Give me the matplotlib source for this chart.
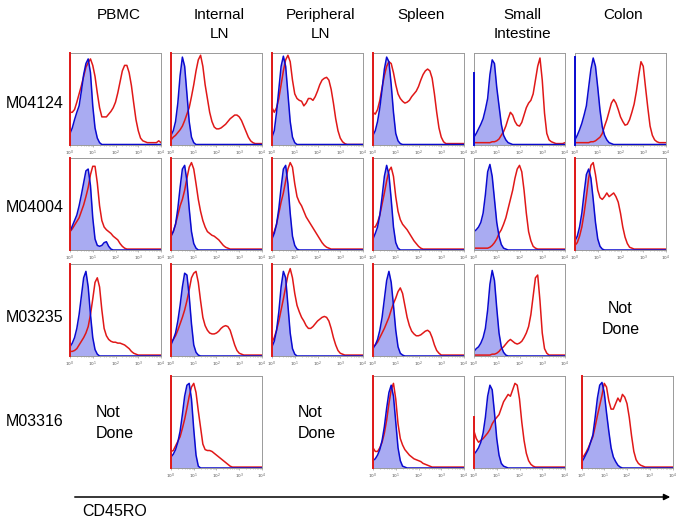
import matplotlib.pyplot as plt
from matplotlib.patches import FancyArrowPatch
import numpy as np

plt.rcParams['font.family'] = ['Liberation Sans', 'DejaVu Sans']

# CD45RO fluorescence, log10 bin centres from 10^0 to 10^4
log_bins = np.linspace(0, 4, 41)

tissues = ["PBMC", "Internal\nLN", "Peripheral\nLN", "Spleen", "Small\nIntestine", "Colon"]
animals = ["M04124", "M04004", "M03235", "M03316"]

# histogram heights (% of panel height), blue = isotype (filled), red = CD45RO stain
# ---- M04124 ----
r1c1_blue = [12, 18, 27, 35, 42, 58, 76, 88, 93, 78, 42, 18, 7, 2, 0] + [0] * 26
r1c1_red = [35, 35, 38, 46, 55, 64, 74, 84, 89, 93, 86, 74, 56, 40, 30, 30, 30, 33, 36, 40, 46,
            56, 68, 80, 86, 86, 78, 64, 45, 27, 15, 7, 4, 3, 2, 2, 2, 2, 2, 4, 2]
r1c2_blue = [10, 15, 25, 45, 75, 95, 85, 55, 25, 8, 2, 0] + [0] * 29
r1c2_red = [5, 8, 10, 13, 16, 20, 26, 33, 40, 52, 65, 80, 92, 97, 85, 65, 50, 35, 25, 19, 17,
            17, 18, 20, 22, 25, 28, 30, 32, 32, 30, 26, 20, 14, 8, 4, 2, 1, 1, 1, 1]
r1c3_blue = [8, 15, 35, 60, 85, 96, 85, 55, 25, 8, 2, 0] + [0] * 29
r1c3_red = [40, 35, 40, 50, 65, 80, 92, 97, 90, 70, 55, 50, 48, 47, 42, 45, 50, 50, 48, 52, 58,
            65, 70, 72, 73, 70, 60, 45, 28, 15, 7, 3, 1, 0, 0, 0, 0, 0, 0, 0, 0]
r1c4_blue = [10, 15, 25, 40, 60, 82, 95, 90, 65, 35, 12, 4, 1, 0] + [0] * 27
r1c4_red = [35, 33, 38, 48, 62, 75, 85, 90, 88, 78, 65, 55, 50, 47, 45, 46, 48, 52, 55, 58, 63,
            70, 76, 80, 82, 80, 72, 55, 35, 18, 8, 3, 1, 1, 1, 1, 1, 1, 1, 1, 1]
r1c5_blue = [8, 12, 17, 22, 28, 38, 50, 76, 92, 88, 62, 42, 22, 10, 5, 2, 1, 0] + [0] * 23
r1c5_red = [2, 2, 2, 2, 2, 2, 2, 2, 3, 3, 4, 6, 10, 14, 20, 28, 35, 32, 25, 21, 20,
            24, 32, 40, 45, 48, 55, 70, 85, 94, 70, 34, 12, 5, 3, 2, 1, 1, 1, 1, 2]
r1c6_blue = [5, 10, 16, 23, 32, 42, 62, 82, 94, 85, 62, 37, 19, 10, 5, 2, 1, 0] + [0] * 23
r1c6_red = [2, 2, 2, 2, 2, 2, 2, 3, 3, 4, 6, 8, 12, 20, 27, 36, 45, 49, 45, 38, 30,
            25, 21, 22, 27, 35, 44, 58, 75, 90, 85, 62, 40, 20, 10, 5, 3, 2, 2, 2, 2]
# ---- M04004 ----
r2c1_blue = [20, 26, 32, 38, 48, 60, 73, 86, 88, 70, 35, 12, 5, 4, 5, 8, 9, 4, 1, 0] + [0] * 21
r2c1_red = [20, 23, 27, 31, 35, 42, 49, 58, 68, 82, 91, 91, 73, 48, 32, 25, 22, 20, 18, 15, 13,
            11, 7, 4, 2, 1, 1, 1, 1, 1, 1, 1, 1, 1, 1, 1, 1, 1, 1, 1, 1]
r2c2_blue = [15, 20, 28, 45, 68, 88, 92, 75, 45, 20, 7, 2, 0] + [0] * 28
r2c2_red = [15, 20, 28, 38, 48, 55, 65, 78, 90, 95, 88, 72, 55, 42, 32, 25, 20, 18, 16, 15, 13,
            11, 8, 5, 3, 2, 1, 1, 1, 1, 1, 1, 1, 1, 1, 1, 1, 1, 1, 1, 1]
r2c3_blue = [12, 18, 28, 45, 68, 88, 92, 72, 40, 15, 5, 1, 0] + [0] * 28
r2c3_red = [15, 20, 28, 40, 52, 62, 75, 88, 95, 90, 72, 58, 52, 48, 42, 36, 32, 28, 24, 20, 16,
            12, 8, 5, 3, 2, 1, 1, 1, 1, 1, 1, 1, 1, 1, 1, 1, 1, 1, 1, 1]
r2c4_blue = [12, 18, 25, 38, 58, 80, 92, 82, 55, 25, 8, 2, 0] + [0] * 28
r2c4_red = [25, 25, 30, 38, 50, 62, 75, 86, 90, 80, 58, 42, 33, 28, 25, 22, 18, 14, 10, 7, 4,
            2, 1, 1, 1, 1, 1, 1, 1, 1, 1, 1, 1, 1, 1, 1, 1, 1, 1, 1, 1]
r2c5_blue = [20, 22, 25, 30, 40, 60, 85, 93, 80, 55, 30, 15, 6, 2, 1, 0] + [0] * 25
r2c5_red = [2, 2, 2, 2, 2, 2, 2, 3, 5, 8, 12, 18, 22, 28, 35, 45, 55, 65, 78, 88, 92,
            85, 65, 40, 20, 10, 4, 2, 1, 1, 1, 1, 1, 1, 1, 1, 1, 1, 1, 1, 1]
r2c6_blue = [10, 15, 25, 40, 62, 82, 88, 78, 55, 30, 12, 4, 1, 0] + [0] * 27
r2c6_red = [5, 8, 15, 25, 40, 58, 78, 92, 95, 82, 65, 57, 55, 58, 62, 58, 60, 62, 58, 52, 40,
            25, 14, 7, 3, 2, 1, 1, 1, 1, 1, 1, 1, 1, 1, 1, 1, 1, 1, 1, 1]
# ---- M03235 ----
r3c1_blue = [10, 14, 20, 30, 45, 65, 85, 92, 75, 45, 20, 7, 2, 0] + [0] * 27
r3c1_red = [5, 5, 6, 8, 12, 16, 20, 25, 32, 45, 62, 80, 85, 75, 50, 30, 22, 18, 16, 15, 15,
            14, 14, 13, 12, 10, 8, 5, 3, 2, 1, 1, 1, 1, 1, 1, 1, 1, 1, 1, 1]
r3c2_blue = [12, 18, 25, 38, 55, 75, 90, 88, 65, 35, 12, 4, 1, 0] + [0] * 27
r3c2_red = [15, 18, 22, 28, 35, 42, 50, 60, 72, 85, 90, 92, 80, 60, 42, 33, 28, 25, 24, 24, 25,
            27, 30, 32, 33, 32, 28, 20, 12, 6, 3, 2, 1, 1, 1, 1, 1, 1, 1, 1, 1]
r3c3_blue = [10, 16, 28, 48, 75, 92, 85, 55, 25, 8, 2, 0] + [0] * 29
r3c3_red = [15, 20, 28, 38, 50, 62, 75, 88, 95, 85, 68, 55, 48, 42, 38, 33, 30, 30, 32, 35, 38,
            40, 42, 43, 42, 38, 30, 20, 12, 6, 3, 2, 1, 1, 1, 1, 1, 1, 1, 1, 1]
r3c4_blue = [8, 12, 18, 28, 42, 62, 82, 92, 80, 55, 28, 10, 3, 1, 0] + [0] * 26
r3c4_red = [10, 12, 15, 20, 25, 30, 36, 42, 50, 57, 63, 70, 74, 68, 55, 42, 33, 27, 24, 22, 22,
            23, 25, 27, 28, 26, 20, 12, 6, 3, 1, 1, 1, 1, 1, 1, 1, 1, 1, 1, 1]
r3c5_blue = [5, 8, 10, 14, 20, 30, 50, 78, 93, 82, 52, 25, 10, 4, 1, 0] + [0] * 25
r3c5_red = [1, 1, 1, 1, 1, 1, 1, 1, 2, 2, 3, 5, 8, 10, 13, 16, 18, 16, 14, 13, 14,
            16, 20, 25, 32, 45, 65, 85, 88, 60, 25, 8, 3, 1, 1, 1, 1, 1, 1, 1, 1]
# ---- M03316 ----
r4c2_blue = [12, 15, 20, 28, 40, 58, 78, 90, 92, 75, 42, 14, 2, 0] + [0] * 27
r4c2_red = [18, 19, 24, 29, 34, 43, 53, 65, 78, 88, 92, 82, 62, 44, 26, 20, 19, 19, 18, 16, 14,
            12, 10, 8, 6, 4, 2, 1, 1, 1, 1, 1, 1, 1, 1, 1, 1, 1, 1, 1, 1]
r4c4_blue = [8, 10, 14, 20, 30, 45, 65, 82, 90, 78, 50, 22, 8, 2, 1, 0] + [0] * 25
r4c4_red = [22, 18, 18, 22, 28, 38, 52, 70, 85, 92, 75, 48, 32, 25, 20, 17, 14, 12, 10, 9, 8,
            7, 5, 4, 3, 2, 1, 1, 1, 1, 1, 1, 1, 1, 1, 1, 1, 1, 1, 1, 1]
r4c5_blue = [15, 18, 22, 28, 38, 55, 78, 90, 85, 60, 32, 14, 5, 2, 1, 0] + [0] * 25
r4c5_red = [40, 32, 28, 30, 32, 35, 38, 42, 48, 52, 55, 58, 65, 72, 76, 80, 78, 85, 92, 90, 75,
            50, 30, 16, 8, 4, 2, 1, 1, 1, 1, 1, 1, 1, 1, 1, 1, 1, 1, 1, 1]
r4c6_blue = [6, 10, 15, 20, 28, 36, 55, 76, 90, 93, 82, 60, 40, 22, 12, 7, 3, 1, 0] + [0] * 22
r4c6_red = [10, 13, 17, 22, 28, 34, 45, 57, 68, 79, 92, 88, 73, 64, 64, 70, 76, 72, 80, 77, 70,
            55, 35, 18, 9, 5, 3, 2, 1, 1, 1, 1, 1, 1, 1, 1, 1, 1, 1, 1, 1]

# (row, col, blue, red, blue edge spike, red edge spike)
panels = [
    (0, 0, r1c1_blue, r1c1_red, 0, 100), (0, 1, r1c2_blue, r1c2_red, 0, 100),
    (0, 2, r1c3_blue, r1c3_red, 0, 100), (0, 3, r1c4_blue, r1c4_red, 0, 100),
    (0, 4, r1c5_blue, r1c5_red, 78, 0), (0, 5, r1c6_blue, r1c6_red, 95, 0),
    (1, 0, r2c1_blue, r2c1_red, 0, 100), (1, 1, r2c2_blue, r2c2_red, 0, 100),
    (1, 2, r2c3_blue, r2c3_red, 0, 100), (1, 3, r2c4_blue, r2c4_red, 0, 100),
    (1, 4, r2c5_blue, r2c5_red, 0, 0), (1, 5, r2c6_blue, r2c6_red, 0, 100),
    (2, 0, r3c1_blue, r3c1_red, 0, 100), (2, 1, r3c2_blue, r3c2_red, 0, 100),
    (2, 2, r3c3_blue, r3c3_red, 0, 100), (2, 3, r3c4_blue, r3c4_red, 0, 100),
    (2, 4, r3c5_blue, r3c5_red, 0, 0),
    (3, 1, r4c2_blue, r4c2_red, 0, 100), (3, 3, r4c4_blue, r4c4_red, 0, 100),
    (3, 4, r4c5_blue, r4c5_red, 0, 55), (3, 5, r4c6_blue, r4c6_red, 0, 100),
]
not_done = [(2, 5, 'center'), (3, 0, 'left'), (3, 2, 'left')]

W, H = 683, 524
fig = plt.figure(figsize=(W / 100, H / 100), dpi=100)

col_left = [70, 171, 272, 373, 474, 575]
row_top = [52.5, 158, 264, 376]
pw, ph = 91, 92

RED = '#e01818'
BLUE = '#0a0ad0'


def px_axes(x, y, w, h):
    return fig.add_axes([x / W, 1 - (y + h) / H, w / W, h / H])


xs = 10 ** log_bins
for r, c, blue, red, bspike, rspike in panels:
    left = col_left[c] + (6.5 if (r == 3 and c == 5) else 0)
    ax = px_axes(left, row_top[r], pw, ph)
    ax.set_xscale('log')
    ax.set_xlim(1, 1e4)
    ax.set_ylim(0, 100)
    ax.fill_between(xs, blue, color='#a9abf2', lw=0)
    ax.plot(xs, red, color=RED, lw=1.1)
    ax.plot(xs, blue, color=BLUE, lw=1.1)
    if bspike:
        ax.plot([1.03, 1.03], [0, bspike], color=BLUE, lw=1.4, zorder=4, clip_on=False)
    if rspike:
        ax.plot([1.03, 1.03], [0, rspike], color=RED, lw=1.4, zorder=4, clip_on=False)
    for s in ax.spines.values():
        s.set_color('#9a9a9a')
        s.set_linewidth(0.7)
    ax.set_yticks([])
    ax.set_xticks([1, 10, 100, 1000, 10000])
    ax.set_xticklabels(['$10^0$', '$10^1$', '$10^2$', '$10^3$', '$10^4$'])
    ax.tick_params(axis='x', which='major', length=1.5, width=0.5, color='#9a9a9a',
                   labelsize=3.1, labelcolor='#555555', pad=1.5)
    ax.tick_params(axis='x', which='minor', length=1, width=0.4, color='#9a9a9a')

for c, name in enumerate(tissues):
    fig.text((col_left[c] + pw / 2 + 3) / W, 1 - 8 / H, name, ha='center', va='top',
             fontsize=11, linespacing=1.45)

row_label_y = [103, 208, 317, 421]
for r, name in enumerate(animals):
    fig.text(6 / W, 1 - row_label_y[r] / H, name, ha='left', va='center', fontsize=11.5)

not_done_y = {2: 319, 3: 423}
for r, c, align in not_done:
    if align == 'center':
        x = (col_left[c] + pw / 2) / W
    else:
        x = (col_left[c] + 26) / W
    fig.text(x, 1 - not_done_y[r] / H, "Not\nDone", ha=align, va='center',
             fontsize=11.5, linespacing=1.5)

fig.patches.append(FancyArrowPatch(
    (72 / W, 1 - 497 / H), (673 / W, 1 - 497 / H), transform=fig.transFigure,
    arrowstyle='-|>', mutation_scale=9, color='black', lw=1.1))
fig.text(82 / W, 1 - 512 / H, "CD45RO", ha='left', va='center', fontsize=11.5)

fig.savefig('out.png', dpi=100)
